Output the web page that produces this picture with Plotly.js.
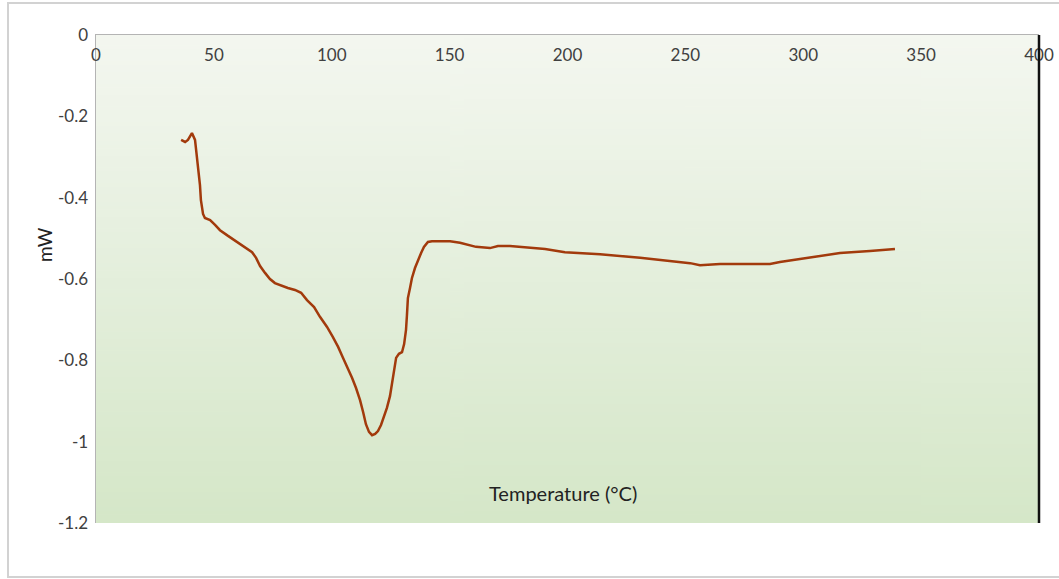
<!DOCTYPE html>
<html>
<head>
<meta charset="utf-8">
<script src="https://cdn.plot.ly/plotly-3.0.1.min.js"></script>
<style>
  html, body { margin: 0; padding: 0; background: #ffffff; }
  #chart { width: 1059px; height: 579px; }
</style>
</head>
<body>
<div id="chart"></div>
<script>
// DSC heat-flow trace: temperature (°C) vs heat flow (mW)
const temperature = [
  36.1, 37.8, 39.0, 39.9, 40.7, 42.0, 42.8, 43.3, 44.1, 44.5,
  45.4, 46.2, 48.4, 50.5, 52.6, 56.0, 59.8, 63.2, 66.2, 67.9,
  69.6, 71.7, 73.8, 75.9, 78.1, 81.4, 84.4, 87.0, 89.5, 92.5,
  95.0, 98.0, 100.5, 102.7, 104.8, 106.9, 108.6, 110.3, 112.0, 113.3,
  114.5, 115.8, 117.1, 118.4, 119.6, 120.9, 122.2, 123.4, 124.7, 126.0,
  127.3, 128.5, 129.8, 130.7, 131.5, 131.9, 132.3, 133.2, 134.0, 135.3,
  136.6, 137.9, 139.1, 140.8, 142.5, 145.9, 150.2, 154.4, 157.8, 161.2,
  167.1, 170.5, 175.6, 180.7, 190.5, 198.9, 213.8, 230.8, 243.5, 252.0,
  256.2, 264.7, 285.9, 290.1, 298.6, 307.1, 315.6, 328.3, 338.9
];
const heatFlow = [
  -0.258, -0.263, -0.258, -0.248, -0.241, -0.258, -0.295, -0.320, -0.369, -0.406,
  -0.440, -0.450, -0.455, -0.467, -0.480, -0.494, -0.509, -0.521, -0.534, -0.548,
  -0.568, -0.585, -0.600, -0.610, -0.615, -0.622, -0.627, -0.634, -0.652, -0.669,
  -0.693, -0.718, -0.743, -0.767, -0.794, -0.819, -0.843, -0.868, -0.898, -0.927,
  -0.957, -0.976, -0.984, -0.981, -0.974, -0.959, -0.939, -0.917, -0.888, -0.836,
  -0.794, -0.784, -0.780, -0.760, -0.725, -0.689, -0.647, -0.622, -0.598, -0.573,
  -0.553, -0.536, -0.521, -0.509, -0.507, -0.507, -0.507, -0.511, -0.516, -0.521,
  -0.524, -0.519, -0.519, -0.521, -0.526, -0.534, -0.539, -0.548, -0.556, -0.561,
  -0.566, -0.563, -0.563, -0.558, -0.551, -0.543, -0.536, -0.531, -0.526
];

// Tick labels
const xTickVals = [0, 50, 100, 150, 200, 250, 300, 350, 400];
const xTickText = ['0', '50', '100', '150', '200', '250', '300', '350', '400'];
const yTickVals = [0, -0.2, -0.4, -0.6, -0.8, -1, -1.2];
const yTickText = ['0', '-0.2', '-0.4', '-0.6', '-0.8', '-1', '-1.2'];

const xTitle = 'Temperature (°C)';
const yTitle = 'mW';

// Vertical pale-green gradient for the plotting area
function gradientImage() {
  const c = document.createElement('canvas');
  c.width = 4; c.height = 256;
  const g = c.getContext('2d');
  const grad = g.createLinearGradient(0, 0, 0, 256);
  grad.addColorStop(0, '#f4f7f0');
  grad.addColorStop(0.5, '#e4efdc');
  grad.addColorStop(1, '#d5e7c8');
  g.fillStyle = grad;
  g.fillRect(0, 0, 4, 256);
  return c.toDataURL('image/png');
}

const font = 'Lato, "Open Sans", "DejaVu Sans", sans-serif';
const textColor = '#404040';

const trace = {
  x: temperature,
  y: heatFlow,
  type: 'scatter',
  mode: 'lines',
  line: { color: '#a23a0c', width: 2.5 },
  hoverinfo: 'x+y'
};

const layout = {
  width: 1059,
  height: 579,
  margin: { l: 96, r: 20, t: 35, b: 56 },
  paper_bgcolor: '#ffffff',
  plot_bgcolor: 'rgba(0,0,0,0)',
  showlegend: false,
  font: { family: font, size: 17, color: textColor },
  xaxis: {
    range: [0, 400],
    side: 'top',
    tickvals: xTickVals,
    ticktext: xTickText,
    ticks: '',
    ticklabelposition: 'inside',
    ticklabeloverflow: 'allow',
    ticklabelstandoff: 15,
    showgrid: false,
    zeroline: false,
    showline: true,
    linecolor: '#b4b4b4',
    linewidth: 1.5,
    tickfont: { family: font, size: 17, color: textColor },
    fixedrange: true
  },
  yaxis: {
    range: [-1.2, 0],
    tickvals: yTickVals,
    ticktext: yTickText,
    ticks: '',
    ticklabelstandoff: 3,
    showgrid: false,
    zeroline: false,
    showline: true,
    linecolor: '#b4b4b4',
    linewidth: 1.5,
    tickfont: { family: font, size: 17, color: textColor },
    fixedrange: true
  },
  images: [{
    source: gradientImage(),
    xref: 'paper', yref: 'paper',
    x: 0, y: 1, sizex: 1, sizey: 1,
    xanchor: 'left', yanchor: 'top',
    sizing: 'stretch',
    layer: 'below'
  }],
  shapes: [
    // dark right-hand boundary of the plotting area
    { type: 'line', xref: 'paper', yref: 'paper', x0: 1, x1: 1, y0: 0, y1: 1,
      line: { color: '#111111', width: 2.5 } },
    // light outer chart frame
    { type: 'rect', xref: 'paper', yref: 'paper',
      x0: -0.0933, x1: 1.05, y0: -0.1107, y1: 1.0656,
      line: { color: '#d2d2d2', width: 2 }, fillcolor: 'rgba(0,0,0,0)', layer: 'below' }
  ],
  annotations: [
    { text: xTitle, xref: 'paper', yref: 'paper', x: 0.495, y: 0.0615,
      xanchor: 'center', yanchor: 'middle',
      showarrow: false, font: { family: font, size: 20, color: '#222222' } },
    { text: yTitle, xref: 'paper', yref: 'paper', x: -0.054, y: 0.57,
      xanchor: 'center', yanchor: 'middle',
      textangle: -90, showarrow: false, font: { family: font, size: 19, color: '#222222' } }
  ]
};

Plotly.newPlot('chart', [trace], layout, { displayModeBar: false, staticPlot: true });
</script>
</body>
</html>
